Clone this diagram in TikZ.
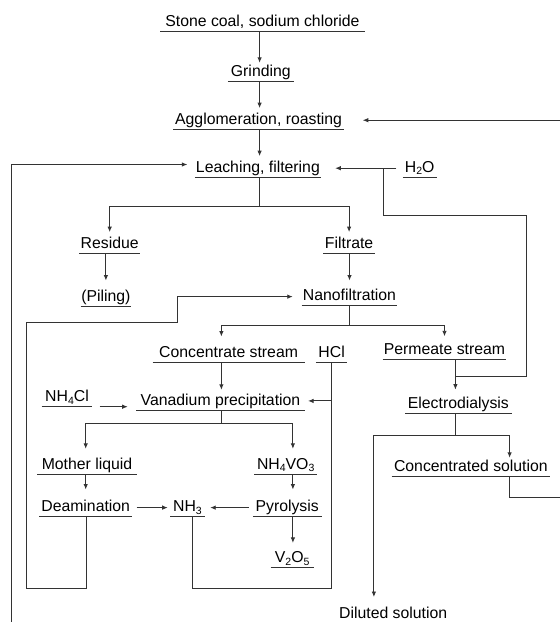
\documentclass[tikz,border=0pt]{standalone}
\usepackage{fontspec}
\setmainfont{Liberation Sans}
\usetikzlibrary{arrows.meta}
\newcommand\chemsub[1]{\raisebox{-0.3ex}{\fontsize{10.5pt}{10.5pt}\selectfont #1}}
\begin{document}
\begin{tikzpicture}[x=1pt,y=-1pt,
  lbl/.style={anchor=south, inner xsep=0pt, inner ysep=0pt, text height=13pt, text depth=4.8pt,
    font=\fontsize{15.8pt}{19pt}\selectfont, text=black},
  ln/.style={draw=black!80, line width=0.9pt},
  arr/.style={ln, -{Latex[length=5.5pt,width=4.5pt]}}]
\useasboundingbox[fill=white] (0,0) rectangle (560,622);

% nodes
\node[lbl, minimum width=203.9pt] (stone) at (262.4,31) {Stone coal, sodium chloride};
\node[lbl, minimum width=65.7pt] (grind) at (260.8,81) {Grinding};
\node[lbl, minimum width=170.7pt] (agglo) at (258.6,129.3) {Agglomeration, roasting};
\node[lbl, minimum width=125.7pt] (leach) at (257.9,177.3) {Leaching, filtering};
\node[lbl, minimum width=33.5pt] (h2o) at (419.7,177.3) {H\chemsub{2}O};
\node[lbl, minimum width=60.7pt] (residue) at (109.7,253.3) {Residue};
\node[lbl, minimum width=51.8pt] (filtrate) at (349.1,253.3) {Filtrate};
\node[lbl, minimum width=50.3pt] (piling) at (105.9,306.7) {(Piling)};
\node[lbl, minimum width=95.3pt] (nano) at (349.5,305.7) {Nanofiltration};
\node[lbl, minimum width=151.4pt] (conc) at (228.6,362.7) {Concentrate stream};
\node[lbl, minimum width=31.1pt] (hcl) at (331.6,362.7) {HCl};
\node[lbl, minimum width=123.2pt] (perm) at (444.5,359) {Permeate stream};
\node[lbl, minimum width=50.3pt] (nh4cl) at (67,406.7) {NH\chemsub{4}Cl};
\node[lbl, minimum width=168.2pt] (vanad) at (220.5,410) {Vanadium precipitation};
\node[lbl, minimum width=106pt] (electro) at (458.4,413.3) {Electrodialysis};
\node[lbl, minimum width=98.9pt] (mother) at (87,474) {Mother liquid};
\node[lbl, minimum width=62.8pt] (nh4vo3) at (285.7,474) {NH\chemsub{4}VO\chemsub{3}};
\node[lbl, minimum width=158.2pt] (cons) at (470.9,476) {Concentrated solution};
\node[lbl, minimum width=92.8pt] (deam) at (85.7,516.7) {Deamination};
\node[lbl, minimum width=34.2pt] (nh3) at (187.5,516.7) {NH\chemsub{3}};
\node[lbl, minimum width=68.5pt] (pyro) at (287.2,516.7) {Pyrolysis};
\node[lbl, minimum width=42.9pt] (v2o5) at (292.2,567.7) {V\chemsub{2}O\chemsub{5}};
\node[lbl, minimum width=110pt] (diluted) at (393.2,623.2) {Diluted solution};

% underlines
\foreach \n in {stone,grind,agglo,leach,h2o,residue,filtrate,piling,nano,conc,hcl,perm,
  nh4cl,vanad,electro,mother,nh4vo3,cons,deam,nh3,pyro,v2o5}
  \draw[ln] (\n.south west) -- (\n.south east);

% helper coordinates
\coordinate (cx) at (259.6,0);
\coordinate (s1) at (259.6,206.7);
\coordinate (s2) at (349.3,325);
\coordinate (xc) at (221.4,0);
\coordinate (yb) at (0,588.3);
\coordinate (xp) at (455.4,0);
\coordinate (xh) at (383.9,0);
\coordinate (h1) at (526.1,215);
\coordinate (h2) at (455.4,376);
\coordinate (s3) at (221.4,423.3);
\coordinate (xl) at (85.7,0);
\coordinate (xr) at (292.9,0);
\coordinate (xd) at (86.8,0);
\coordinate (l1) at (26.8,588.3);
\coordinate (l2) at (177.5,322.3);
\coordinate (xn) at (192.9,0);
\coordinate (s4) at (455.4,435);
\coordinate (xcs) at (509.6,0);
\coordinate (xdl) at (373.9,0);
\coordinate (r1) at (570,497.7);
\coordinate (lb) at (11.8,640);

% main column
\draw[arr] (stone.south -| cx) -- (grind.north -| cx);
\draw[arr, shorten >=3pt] (grind.south -| cx) -- (agglo.north -| cx);
\draw[arr, shorten >=3pt] (agglo.south -| cx) -- (leach.north -| cx);

% leaching split
\draw[ln] (leach.south -| s1) -- (s1);
\draw[arr, shorten >=3pt] (s1) -| (residue.north);
\draw[arr, shorten >=3pt] (s1) -| (filtrate.north);
\draw[arr, shorten >=8pt] (residue.south -| piling) -- (piling.north);
\draw[arr, shorten >=7pt] (filtrate.south -| nano) -- (nano.north);

% nanofiltration split
\draw[ln] (nano.south -| s2) -- (s2);
\draw[arr, shorten >=8pt] (s2) -| (xc |- conc.north);
\draw[arr, shorten >=4.5pt] (s2) -| (perm.north);
\draw[arr, shorten >=2pt] (xc |- conc.south) -- (xc |- vanad.north);

% HCl
\draw[ln] (hcl.south) -- (hcl.south |- yb);
\draw[arr, shorten >=3.3pt] (hcl.south |- vanad.east) -- (vanad.east);

% permeate, H2O
\draw[arr, shorten >=5.5pt] (xp |- perm.south) -- (xp |- electro.north);
\draw[arr, shorten <=6.5pt, shorten >=14.3pt] (h2o.west) -- (leach.east);
\draw[ln] (xh |- h2o.west) |- (h1) |- (h2);

% NH4Cl
\draw[arr, shorten <=7.2pt, shorten >=8.5pt] (nh4cl.south east) -- (vanad.west |- nh4cl.south);

% vanadium split
\draw[ln] (vanad.south -| s3) -- (s3);
\draw[arr, shorten >=7pt] (s3) -| (xl |- mother.north);
\draw[arr, shorten >=7pt] (s3) -| (xr |- nh4vo3.north);
\draw[arr, shorten >=9pt] (xl |- mother.south) -- (xl |- deam.north);
\draw[arr, shorten >=9pt] (xr |- nh4vo3.south) -- (xr |- pyro.north);
\draw[arr, shorten >=6.6pt] (xr |- pyro.south) -- (xr |- v2o5.north);
\draw[arr, shorten <=4.3pt, shorten >=2.5pt] (deam.east) -- (nh3.west);
\draw[arr, shorten <=4pt, shorten >=5.4pt] (pyro.west) -- (nh3.east);

% loops
\draw[arr, shorten >=8.9pt] (xd |- deam.south) |- (l1) |- (l2) |- (nano.west);
\draw[ln] (xn |- nh3.south) |- (hcl.south |- yb);

% electrodialysis split
\draw[ln] (electro.south -| s4) -- (s4);
\draw[arr] (s4) -| (xcs |- cons.north);
\draw[arr, shorten >=8pt] (s4) -| (xdl |- diluted.north);
\draw[arr, shorten >=18.6pt] (xcs |- cons.south) |- (r1) |- (agglo.east);

% left return
\draw[arr, shorten >=7.5pt] (lb) |- ([yshift=3.7pt]leach.west);
\end{tikzpicture}
\end{document}
